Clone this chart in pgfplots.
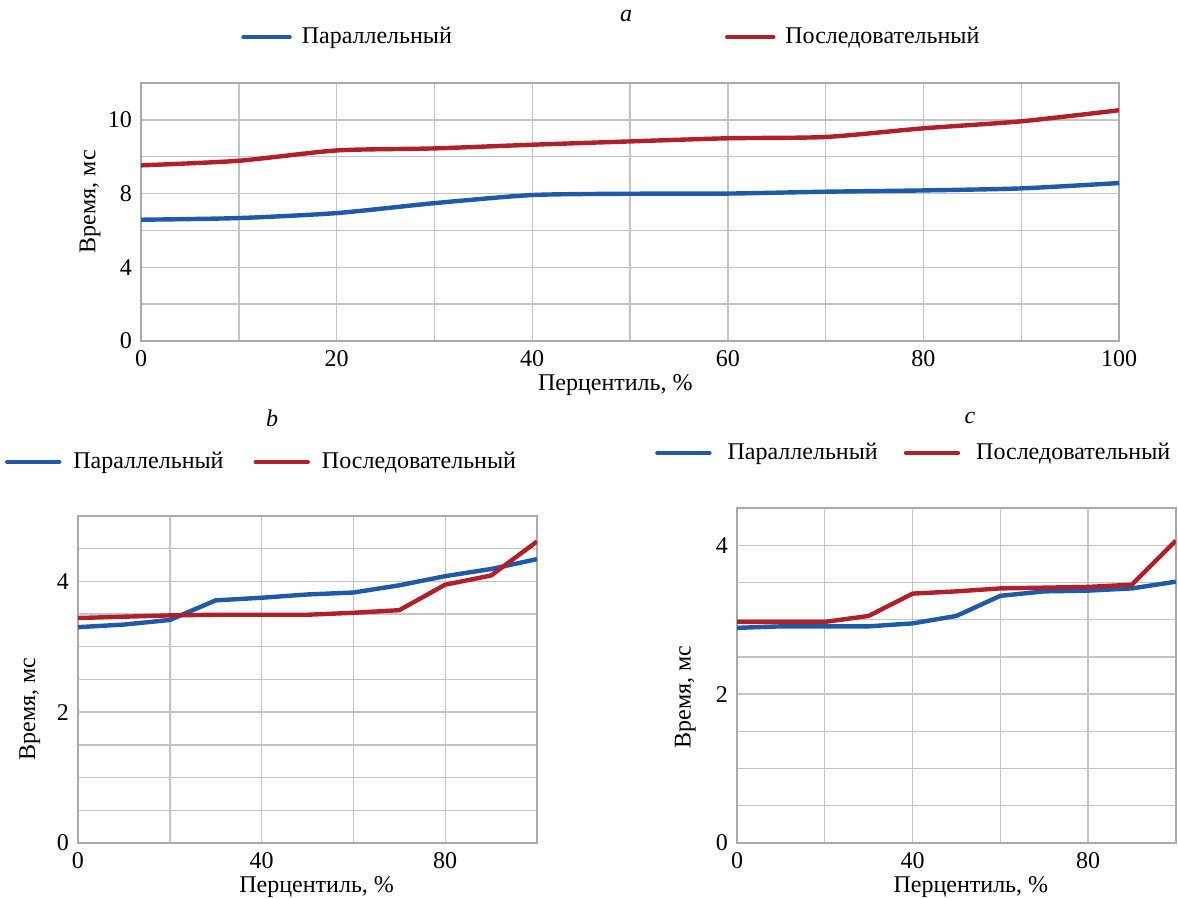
\documentclass[border=0pt]{standalone}
\usepackage{pgfplots}
\pgfplotsset{compat=1.18}
\usepackage{fontspec}
\setmainfont{Liberation Serif}
\definecolor{cblue}{RGB}{31,90,168}
\definecolor{cred}{RGB}{176,32,42}
\definecolor{cgrid}{RGB}{196,196,196}
\definecolor{caxis}{RGB}{170,170,170}
\pgfplotsset{
  every axis title shift=0pt,
  myax/.style={
    scale only axis,
    anchor=south west,
    font=\fontsize{12}{14}\selectfont,
    /pgf/number format/assume math mode=true,
    axis line style={draw=caxis, line width=0.9pt},
    grid=both,
    major grid style={draw=cgrid, line width=0.7pt},
    minor grid style={draw=cgrid, line width=0.7pt},
    major tick length=0pt, minor tick length=0pt,
    tick style={draw=none},
    xmin=0, xmax=100, ymin=0,
    yticklabel style={xshift=-1pt},
    xticklabel style={yshift=-1pt},
    legend columns=2,
    legend cell align=left,
    legend image code/.code={\draw[#1, line width=2.2pt, line cap=round] (0pt,0pt) -- (23pt,0pt);},
    title style={font=\fontsize{12}{14}\selectfont\itshape, anchor=center},
    every axis plot/.append style={line width=2.2pt, line join=round, mark=none},
  }
}
\begin{document}
\begin{tikzpicture}[x=1pt,y=1pt]
\path[use as bounding box] (0,0) rectangle (589,449.5);
% ---------- a ----------
\begin{axis}[myax,
  at={(70.5pt,279pt)}, width=489pt, height=129pt,
  ymax=14,
  xtick={0,20,40,60,80,100}, minor xtick={10,30,50,70,90},
  ytick={0,4,8,12}, yticklabels={0,4,8,10}, minor ytick={2,6,10,14},
  xlabel={Перцентиль, \%}, ylabel={Время, мс},
  xlabel style={at={(axis description cs:0.485,0)}, anchor=north, yshift=-13pt},
  ylabel style={at={(axis description cs:-0.052,0.54)}, anchor=center},
  title={a}, title style={at={(axis description cs:0.496,1.26)}},
  legend style={draw=none, fill=none, at={(axis description cs:0.482,1.178)}, anchor=center,
    font=\fontsize{12}{14}\selectfont,
    /tikz/every even column/.append style={column sep=134.5pt},
    /tikz/every odd column/.append style={column sep=3pt}},
]
\addplot[cblue, smooth, tension=0.4] coordinates {(0,6.58) (10,6.67) (20,6.94) (30,7.48) (40,7.92) (50,7.99) (60,8.00) (70,8.10) (80,8.17) (90,8.28) (100,8.57)};
\addlegendentry{Параллельный}
\addplot[cred, smooth, tension=0.4] coordinates {(0,9.53) (10,9.78) (20,10.34) (30,10.45) (40,10.65) (50,10.83) (60,11.00) (70,11.07) (80,11.54) (90,11.92) (100,12.52)};
\addlegendentry{Последовательный}
\end{axis}
% ---------- b ----------
\begin{axis}[myax,
  at={(39pt,28pt)}, width=229.5pt, height=163.5pt,
  ymax=5,
  xtick={0,40,80}, minor xtick={20,60,100},
  ytick={0,2,4}, minor ytick={0.5,1,1.5,2.5,3,3.5,4.5,5},
  xlabel={Перцентиль, \%}, ylabel={Время, мс},
  xlabel style={at={(axis description cs:0.52,0)}, anchor=north, yshift=-13pt},
  ylabel style={at={(axis description cs:-0.105,0.41)}, anchor=center},
  title={b}, title style={at={(axis description cs:0.423,1.30)}},
  legend style={draw=none, fill=none, at={(axis description cs:0.402,1.165)}, anchor=center,
    font=\fontsize{12}{14}\selectfont,
    /tikz/every even column/.append style={column sep=13pt},
    /tikz/every odd column/.append style={column sep=4pt}},
  legend image code/.code={\draw[#1, line width=2.2pt, line cap=round] (0pt,0pt) -- (26pt,0pt);},
]
\addplot[cblue] coordinates {(0,3.30) (10,3.34) (20,3.41) (30,3.71) (40,3.75) (50,3.80) (60,3.83) (70,3.94) (80,4.08) (90,4.19) (100,4.34)};
\addlegendentry{Параллельный}
\addplot[cred] coordinates {(0,3.44) (10,3.46) (20,3.48) (30,3.49) (40,3.49) (50,3.49) (60,3.52) (70,3.56) (80,3.95) (90,4.09) (100,4.61)};
\addlegendentry{Последовательный}
\end{axis}
% ---------- c ----------
\begin{axis}[myax,
  at={(368.5pt,28pt)}, width=219.4pt, height=167.5pt,
  ymax=4.5,
  xtick={0,40,80}, minor xtick={20,60,100},
  ytick={0,2,4}, minor ytick={0.5,1,1.5,2.5,3,3.5,4.5},
  xlabel={Перцентиль, \%}, ylabel={Время, мс},
  xlabel style={at={(axis description cs:0.533,0)}, anchor=north, yshift=-13pt},
  ylabel style={at={(axis description cs:-0.118,0.436)}, anchor=center},
  title={c}, title style={at={(axis description cs:0.531,1.269)}},
  legend style={draw=none, fill=none, at={(axis description cs:0.405,1.164)}, anchor=center,
    font=\fontsize{12}{14}\selectfont,
    /tikz/every even column/.append style={column sep=11pt},
    /tikz/every odd column/.append style={column sep=6pt}},
  legend image code/.code={\draw[#1, line width=2.2pt, line cap=round] (0pt,0pt) -- (26pt,0pt);},
]
\addplot[cblue] coordinates {(0,2.89) (10,2.91) (20,2.91) (30,2.91) (40,2.95) (50,3.05) (60,3.32) (70,3.38) (80,3.39) (90,3.42) (100,3.51)};
\addlegendentry{Параллельный}
\addplot[cred] coordinates {(0,2.97) (10,2.97) (20,2.97) (30,3.05) (40,3.35) (50,3.38) (60,3.42) (70,3.43) (80,3.44) (90,3.47) (100,4.06)};
\addlegendentry{Последовательный}
\end{axis}
\end{tikzpicture}
\end{document}
